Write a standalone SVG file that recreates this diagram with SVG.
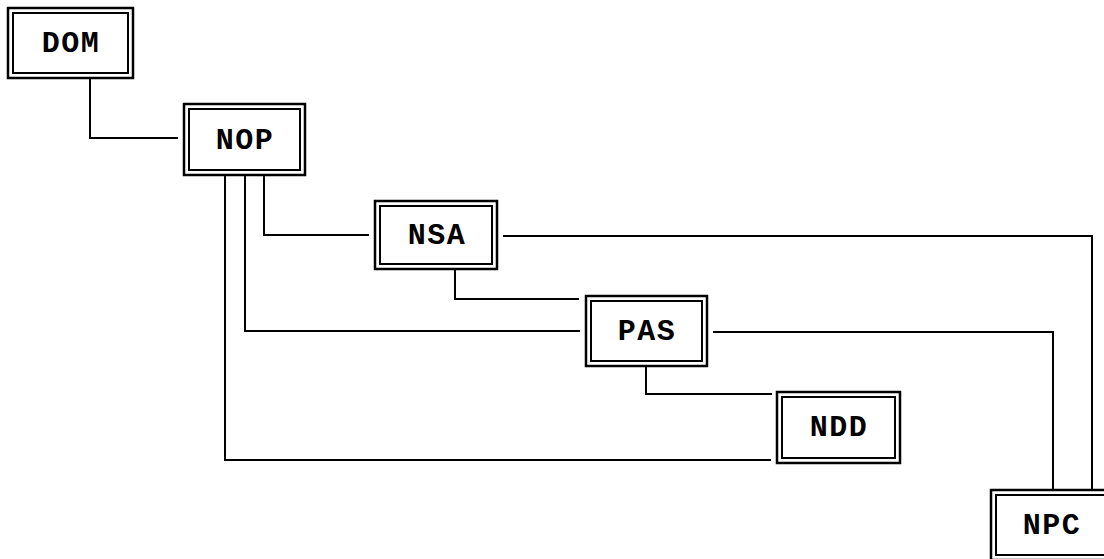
<svg xmlns="http://www.w3.org/2000/svg" width="1104" height="559" viewBox="0 0 1104 559">
<style>
.outer{fill:#fff;stroke:#000;stroke-width:2.5}
.inner{fill:none;stroke:#000;stroke-width:2}
.lbl{font-family:"Courier New","Liberation Mono",monospace;font-weight:bold;font-size:30px;fill:#000;text-anchor:middle;letter-spacing:1.5px}
#connectors path{fill:none;stroke:#000;stroke-width:2}
</style>
<rect width="1104" height="559" fill="#fff"/>
<g id="connectors">
<path d="M90 78 V138 H178"/>
<path d="M264 175 V235 H369"/>
<path d="M245 175 V331 H580"/>
<path d="M225 175 V460 H771"/>
<path d="M455 269 V299 H579"/>
<path d="M646 366 V394 H772"/>
<path d="M503 236 H1092 V490"/>
<path d="M713 332 H1053 V490"/>
</g>
<g id="DOM"><rect class="outer" x="8" y="8" width="125" height="70"/><rect class="inner" x="13" y="13" width="115" height="60"/><text class="lbl" x="71" y="52">DOM</text></g>
<g id="NOP"><rect class="outer" x="184" y="104" width="121" height="71"/><rect class="inner" x="189" y="109" width="111" height="61"/><text class="lbl" x="245" y="149">NOP</text></g>
<g id="NSA"><rect class="outer" x="375" y="201" width="122" height="68"/><rect class="inner" x="380" y="206" width="112" height="58"/><text class="lbl" x="437" y="244">NSA</text></g>
<g id="PAS"><rect class="outer" x="586" y="296" width="121" height="70"/><rect class="inner" x="591" y="301" width="111" height="60"/><text class="lbl" x="647" y="340">PAS</text></g>
<g id="NDD"><rect class="outer" x="777" y="392" width="123" height="71"/><rect class="inner" x="782" y="397" width="113" height="61"/><text class="lbl" x="839" y="436">NDD</text></g>
<g id="NPC"><rect class="outer" x="991" y="490" width="122" height="70"/><rect class="inner" x="996" y="495" width="112" height="60"/><text class="lbl" x="1052" y="534">NPC</text></g>
</svg>
